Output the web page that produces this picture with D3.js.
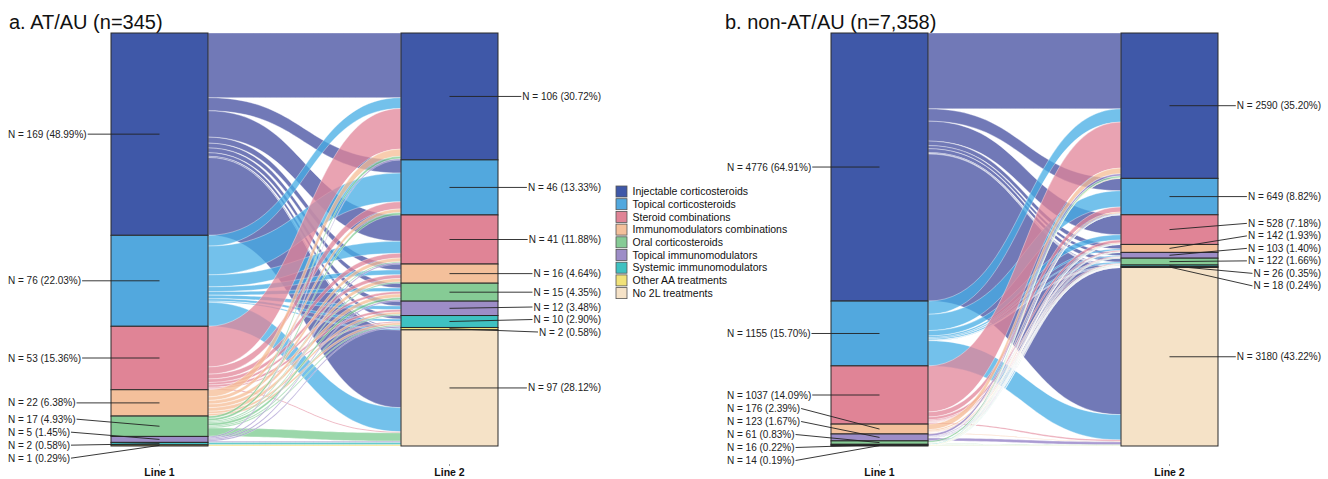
<!DOCTYPE html>
<html>
<head>
<meta charset="utf-8">
<script src="https://cdn.jsdelivr.net/npm/d3@7"></script>
<style>
  body { margin: 0; background: #fff; }
  svg { display: block; font-family: "Liberation Sans", Arial, Helvetica, sans-serif; }
</style>
</head>
<body>
<svg id="chart" width="1328" height="479"></svg>
<script>
// treatment categories, legend order
const categories = ['Injectable corticosteroids', 'Topical corticosteroids', 'Steroid combinations',
  'Immunomodulators combinations', 'Oral corticosteroids', 'Topical immunomodulators',
  'Systemic immunomodulators', 'Other AA treatments', 'No 2L treatments'];
const stratumColors = ['#3f58a8', '#52a8de', '#e08496', '#f4c09b', '#86cb95', '#9d8dc7', '#3fc1c1', '#f1e279', '#f5e2c7'];
const flowColors = ['#414c9f', '#44ace4', '#e28498', '#f5bc94', '#7aca8e', '#8e7ac3', '#30bcbc', '#f0dc64', '#f5e2c7'];
const axes = ['Line 1', 'Line 2'];

// a. AT/AU -- stratum order top to bottom (index into categories)
const orderA = [0, 1, 2, 3, 4, 5, 6, 7, 8];
const line1A = [169, 76, 53, 22, 17, 5, 2, 1];
const line2A = [106, 46, 41, 16, 15, 12, 10, 2, 97];
// rows = line 1 strata, cols = line 2 strata (both in orderA), estimated from ribbon widths
const flowsA = [
  [54, 11, 22, 5, 4, 4, 3, 1, 65],
  [9, 24, 10, 4, 3, 3, 2, 1, 20],
  [34, 6, 4, 3, 2, 2, 1, 0, 1],
  [6, 3, 3, 3, 3, 2, 2, 0, 0],
  [2, 2, 1, 1, 2, 1, 1, 0, 7],
  [1, 0, 1, 0, 1, 0, 1, 0, 1],
  [0, 0, 0, 0, 0, 0, 0, 0, 2],
  [0, 0, 0, 0, 0, 0, 0, 0, 1]
];

// b. non-AT/AU -- purple stratum sits above green here
const orderB = [0, 1, 2, 3, 5, 4, 6, 7, 8];
const line1B = [4776, 1155, 1037, 176, 123, 61, 16, 14];
const line2B = [2590, 649, 528, 142, 103, 122, 26, 18, 3180];
const flowsB = [
  [1351, 220, 355, 80, 55, 70, 14, 10, 2621],
  [236, 290, 95, 30, 20, 25, 5, 4, 450],
  [820, 90, 50, 20, 12, 15, 3, 2, 25],
  [100, 25, 15, 8, 8, 6, 2, 1, 11],
  [40, 12, 6, 2, 6, 3, 1, 1, 52],
  [30, 8, 4, 2, 2, 3, 1, 0, 11],
  [8, 2, 2, 0, 0, 0, 0, 0, 4],
  [5, 2, 1, 0, 0, 0, 0, 0, 6]
];

const svg = d3.select('#chart');
const fontFamily = '"Liberation Sans", Arial, Helvetica, sans-serif';

// push overlapping labels apart, keeping each cluster centred on its targets
function repel(targets, gap, lo, hi) {
  const place = grp => {
    let s = grp.sum / grp.n - (grp.n - 1) * gap / 2;
    grp.start = Math.max(lo, Math.min(hi - (grp.n - 1) * gap, s));
  };
  let groups = targets.map((t, i) => ({ idx: [i], sum: t, n: 1 }));
  groups.forEach(place);
  let merged = true;
  while (merged) {
    merged = false;
    for (let k = 0; k < groups.length - 1; k++) {
      const a = groups[k], b = groups[k + 1];
      if (a.start + a.n * gap > b.start + 1e-6) {
        const m = { idx: a.idx.concat(b.idx), sum: a.sum + b.sum, n: a.n + b.n };
        place(m);
        groups.splice(k, 2, m);
        merged = true;
        break;
      }
    }
  }
  const pos = [];
  groups.forEach(gr => gr.idx.forEach((i, k) => pos[i] = gr.start + k * gap));
  return pos;
}

function drawPanel(p) {
  const total = d3.sum(p.line1);
  const x = d3.scaleBand().domain(axes).range(p.xRange).paddingInner(0.6655);
  const y = d3.scaleLinear().domain([0, total]).range([33, 446]);
  const bw = x.bandwidth();
  const g = svg.append('g');

  g.append('text')
    .attr('x', p.titleX).attr('y', 29)
    .attr('font-size', 20).attr('fill', '#111')
    .text(p.title);

  function stack(vals) {
    let acc = 0;
    return vals.map((v, i) => {
      const s = { v, cat: p.order[i], y0: y(acc), y1: y(acc + v) };
      acc += v;
      return s;
    });
  }
  const s1 = stack(p.line1), s2 = stack(p.line2);

  // ribbons: leave each line-1 stratum in line-2 order, enter in line-1 order
  const out = s1.map(s => s.y0), inc = s2.map(s => s.y0);
  const links = [];
  p.flows.forEach((row, i) => row.forEach((v, j) => {
    if (!v) return;
    const h = y(v) - y(0);
    links.push({ cat: p.order[i], a0: out[i], a1: out[i] + h, b0: inc[j], b1: inc[j] + h });
    out[i] += h;
    inc[j] += h;
  }));

  const xa = x('Line 1') + bw, xb = x('Line 2');
  function ribbon(d) {
    const w = xb - xa, c1 = xa + w * 0.5, c2 = xb - w * 0.5;
    const path = d3.path();
    path.moveTo(xa, d.a0);
    path.bezierCurveTo(c1, d.a0, c2, d.b0, xb, d.b0);
    path.lineTo(xb, d.b1);
    path.bezierCurveTo(c2, d.b1, c1, d.a1, xa, d.a1);
    path.closePath();
    return path.toString();
  }

  g.append('g')
    .selectAll('path')
    .data(links)
    .join('path')
    .attr('d', ribbon)
    .attr('fill', d => flowColors[d.cat])
    .attr('fill-opacity', 0.75)
    .attr('stroke', '#fff')
    .attr('stroke-opacity', 0.6)
    .attr('stroke-width', 0.6);

  // strata
  [[s1, 'Line 1'], [s2, 'Line 2']].forEach(([strata, ax]) => {
    g.append('g')
      .selectAll('rect')
      .data(strata)
      .join('rect')
      .attr('x', x(ax))
      .attr('y', d => d.y0)
      .attr('width', bw)
      .attr('height', d => d.y1 - d.y0)
      .attr('fill', d => stratumColors[d.cat])
      .attr('stroke', '#2a2a2a')
      .attr('stroke-width', 1);
  });

  const fmt = v => 'N = ' + v + ' (' + (v / total * 100).toFixed(2) + '%)';

  // left labels (line 1)
  const cx1 = x('Line 1') + bw / 2;
  const t1 = s1.map(s => (s.y0 + s.y1) / 2);
  const p1 = repel(t1, 13, 40, 460.5);
  s1.forEach((s, i) => {
    const txt = g.append('text')
      .attr('x', p.leftX).attr('y', p1[i]).attr('dy', '0.35em')
      .attr('font-size', 10).attr('fill', '#222')
      .text(fmt(s.v));
    const tw = txt.node().getComputedTextLength();
    g.append('line')
      .attr('x1', p.leftX + tw + 1).attr('y1', p1[i])
      .attr('x2', cx1).attr('y2', t1[i])
      .attr('stroke', '#222').attr('stroke-width', 0.9);
  });

  // right labels (line 2)
  const cx2 = x('Line 2') + bw / 2;
  const t2 = s2.map(s => (s.y0 + s.y1) / 2);
  const p2 = repel(t2, 12.5, 40, 460.5);
  s2.forEach((s, i) => {
    const txt = g.append('text')
      .attr('x', p.rightX).attr('y', p2[i]).attr('dy', '0.35em')
      .attr('text-anchor', 'end')
      .attr('font-size', 10).attr('fill', '#222')
      .text(fmt(s.v));
    const tw = txt.node().getComputedTextLength();
    g.append('line')
      .attr('x1', cx2).attr('y1', t2[i])
      .attr('x2', p.rightX - tw - 1).attr('y2', p2[i])
      .attr('stroke', '#222').attr('stroke-width', 0.9);
  });

  // axis labels
  const axis = g.append('g')
    .attr('transform', 'translate(0,464)')
    .call(d3.axisBottom(x).tickSize(2).tickPadding(3));
  axis.attr('font-family', fontFamily);
  axis.select('.domain').remove();
  axis.selectAll('.tick line').attr('stroke', '#999');
  axis.selectAll('.tick text')
    .attr('font-size', 10.5).attr('font-weight', 'bold').attr('fill', '#111');
}

drawPanel({ title: 'a. AT/AU (n=345)', titleX: 9, xRange: [111, 498], leftX: 8, rightX: 601,
  line1: line1A, line2: line2A, flows: flowsA, order: orderA });
drawPanel({ title: 'b. non-AT/AU (n=7,358)', titleX: 725, xRange: [831, 1218], leftX: 727, rightX: 1321,
  line1: line1B, line2: line2B, flows: flowsB, order: orderB });

// legend
const legend = svg.append('g').attr('transform', 'translate(616,186)');
const row = legend.selectAll('g')
  .data(categories)
  .join('g')
  .attr('transform', (d, i) => 'translate(0,' + (i * 12.7) + ')');
row.append('rect')
  .attr('width', 11).attr('height', 11)
  .attr('fill', (d, i) => stratumColors[i])
  .attr('stroke', '#555').attr('stroke-width', 0.8);
row.append('text')
  .attr('x', 16.5).attr('y', 5.5).attr('dy', '0.35em')
  .attr('font-size', 10.5).attr('fill', '#111')
  .text(d => d);
</script>
</body>
</html>
